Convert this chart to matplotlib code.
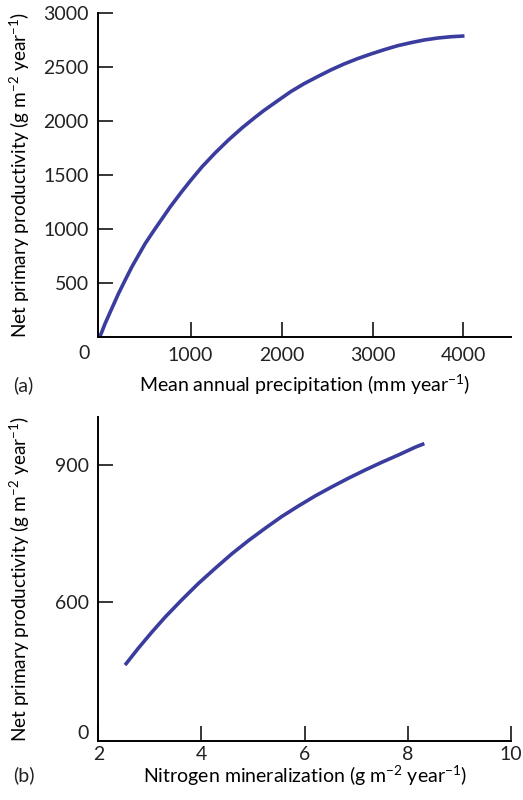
import matplotlib
matplotlib.use("Agg")
import matplotlib.pyplot as plt

# Panel (a): precipitation vs NPP
precip = [0, 61, 134, 208, 281, 355, 428, 502, 593, 686, 777, 888, 998, 1127, 1273,
          1420, 1567, 1714, 1806, 1954, 2100, 2247, 2395, 2541, 2688, 2836, 2982,
          3129, 3277, 3423, 3570, 3718, 3864, 4011]
npp_a = [0, 130, 268, 407, 531, 654, 762, 870, 985, 1098, 1209, 1333, 1450, 1580, 1710,
         1830, 1940, 2040, 2100, 2188, 2274, 2348, 2413, 2475, 2531, 2580, 2623,
         2663, 2700, 2728, 2753, 2771, 2783, 2790]

# Panel (b): nitrogen mineralization vs NPP
nmin = [2.518, 2.776, 3.036, 3.294, 3.618, 3.940, 4.264, 4.588, 4.910, 5.234, 5.558,
        5.880, 6.204, 6.528, 6.850, 7.174, 7.498, 7.820, 8.144, 8.324]
npp_b = [461, 498, 533, 566, 604, 640, 673, 705, 734, 761, 787,
         810, 832, 852, 871, 889, 906, 922, 939, 947]

xticks_a = [1000, 2000, 3000, 4000]
yticks_a = [500, 1000, 1500, 2000, 2500, 3000]
xticks_b = [2, 4, 6, 8, 10]
yticks_b = [600, 900]

LINE_COLOR = '#3a3c9e'
TEXT_COLOR = '#222222'
FS = 14

plt.rcParams['font.family'] = ['Lato', 'DejaVu Sans']
plt.rcParams['mathtext.fontset'] = 'custom'
plt.rcParams['mathtext.rm'] = 'Lato'
plt.rcParams['mathtext.it'] = 'Lato:italic'
plt.rcParams['text.color'] = TEXT_COLOR
plt.rcParams['xtick.labelcolor'] = TEXT_COLOR
plt.rcParams['ytick.labelcolor'] = TEXT_COLOR

fig = plt.figure(figsize=(5.23, 8.0), dpi=100)
ax1 = fig.add_axes([0.188, 0.5784, 0.7886, 0.405])
ax2 = fig.add_axes([0.188, 0.0741, 0.7886, 0.405])

ylab = r'Net primary productivity (g m$^{-2}$ year$^{-1}$)'


def style(ax, xpad=7):
    for side in ('top', 'right'):
        ax.spines[side].set_visible(False)
    for side in ('left', 'bottom'):
        ax.spines[side].set_linewidth(1.4)
    ax.tick_params(direction='in', length=11, width=1.1, labelsize=FS, color='black')
    ax.tick_params(axis='x', pad=xpad)
    ax.tick_params(axis='y', pad=7)


# (a)
ax1.plot(precip, npp_a, color=LINE_COLOR, lw=2.6, solid_capstyle='butt')
ax1.set_xlim(-15, 4520)
ax1.set_ylim(0, 3000)
ax1.set_xticks(xticks_a)
ax1.set_yticks(yticks_a)
style(ax1)
ax1.annotate('0', xy=(0, 0), xycoords='data', xytext=(-11, -12),
             textcoords='offset points', ha='center', va='center', fontsize=FS)
ax1.set_xlabel(r'Mean annual precipitation (mm year$^{-1}$)', fontsize=FS, va='center')
ax1.xaxis.set_label_coords(0.5, -0.147)
ax1.set_ylabel(ylab, fontsize=13.7)
ax1.yaxis.set_label_coords(-0.16, 0.5)
fig.text(0.025, 1 - 385 / 800, '(a)', fontsize=FS, va='center', ha='left')

# (b)
ax2.plot(nmin, npp_b, color=LINE_COLOR, lw=2.6, solid_capstyle='butt')
ax2.set_xlim(2, 10)
ax2.set_ylim(295, 1006)
ax2.set_xticks(xticks_b)
ax2.set_yticks(yticks_b)
style(ax2, xpad=4)
ax2.annotate('0', xy=(2, 295), xycoords='data', xytext=(-7, 5),
             textcoords='offset points', ha='right', va='center', fontsize=FS)
ax2.set_xlabel(r'Nitrogen mineralization (g m$^{-2}$ year$^{-1}$)', fontsize=FS, va='center')
ax2.xaxis.set_label_coords(0.5, -0.11)
ax2.set_ylabel(ylab, fontsize=13.7)
ax2.yaxis.set_label_coords(-0.16, 0.5)
fig.text(0.025, 1 - 775 / 800, '(b)', fontsize=FS, va='center', ha='left')

fig.savefig('out.png', dpi=100)
